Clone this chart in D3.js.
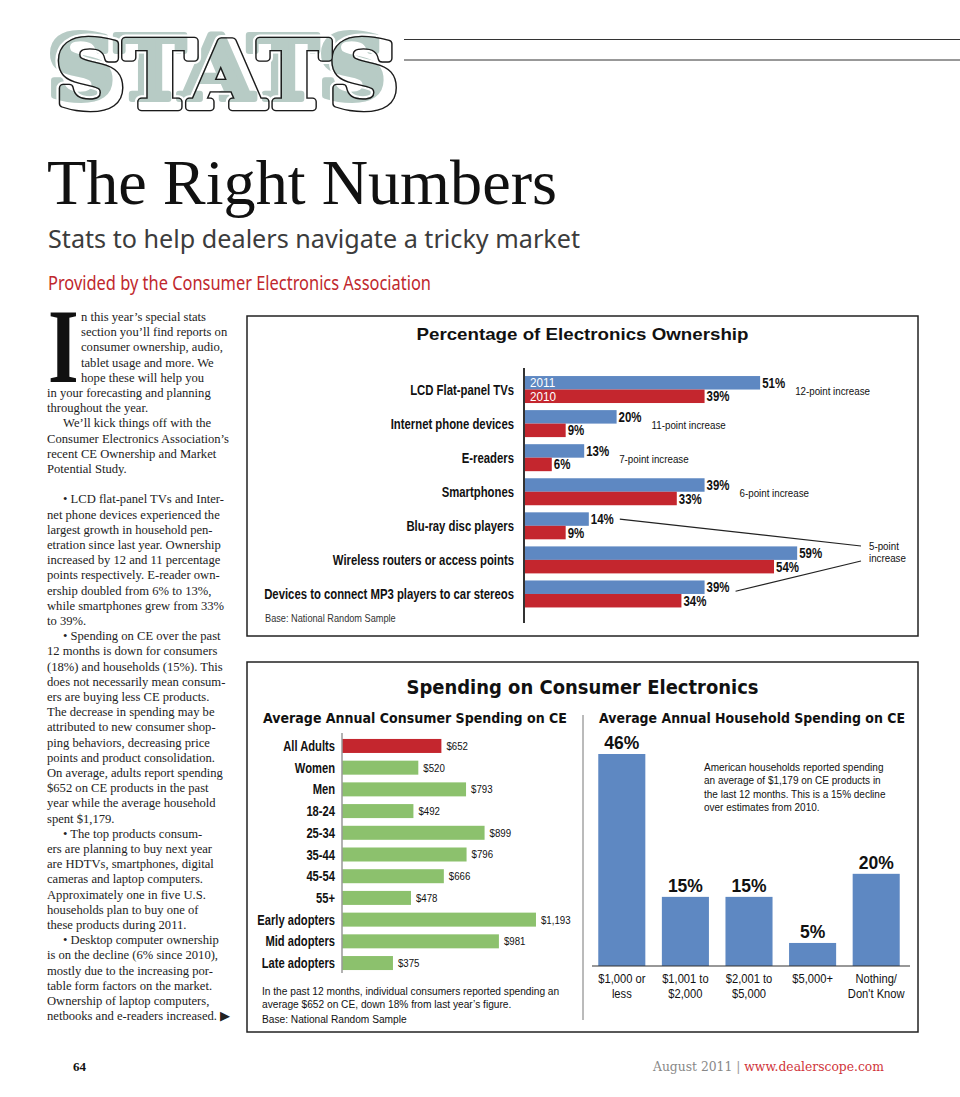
<!DOCTYPE html>
<html><head><meta charset="utf-8">
<script src="https://cdn.jsdelivr.net/npm/d3@7"></script>
<style>body{margin:0;background:#fff}svg{display:block}</style>
</head><body>
<script>
// ---------- DATA ----------
const ownCats = ["LCD Flat-panel TVs","Internet phone devices","E-readers","Smartphones","Blu-ray disc players","Wireless routers or access points","Devices to connect MP3 players to car stereos"];
const ownSeries = ["2011","2010"];
const own2011 = [51,20,13,39,14,59,39];
const own2010 = [39,9,6,33,9,54,34];
const ownNotes = ["12-point increase","11-point increase","7-point increase","6-point increase"];
const ownNote5 = ["5-point","increase"];

const consCats = ["All Adults","Women","Men","18-24","25-34","35-44","45-54","55+","Early adopters","Mid adopters","Late adopters"];
const consVals = [652,520,793,492,899,796,666,478,1193,981,375];
const consLabels = ["$652","$520","$793","$492","$899","$796","$666","$478","$1,193","$981","$375"];

const hhCats = [["$1,000 or","less"],["$1,001 to","$2,000"],["$2,001 to","$5,000"],["$5,000+"],["Nothing/","Don't Know"]];
const hhVals = [46,15,15,5,20];

const bodyLines = [
 [81,"n this year\u2019s special stats"],[81,"section you\u2019ll find reports on"],[81,"consumer ownership, audio,"],[81,"tablet usage and more. We"],[81,"hope these will help you"],
 [47,"in your forecasting and planning"],[47,"throughout the year."],[63,"We\u2019ll kick things off with the"],[47,"Consumer Electronics Association\u2019s"],[47,"recent CE Ownership and Market"],[47,"Potential Study."],[47,""],
 [63,"\u2022 LCD flat-panel TVs and Inter-"],[47,"net phone devices experienced the"],[47,"largest growth in household pen-"],[47,"etration since last year. Ownership"],[47,"increased by 12 and 11 percentage"],[47,"points respectively. E-reader own-"],[47,"ership doubled from 6% to 13%,"],[47,"while smartphones grew from 33%"],[47,"to 39%."],
 [63,"\u2022 Spending on CE over the past"],[47,"12 months is down for consumers"],[47,"(18%) and households (15%). This"],[47,"does not necessarily mean consum-"],[47,"ers are buying less CE products."],[47,"The decrease in spending may be"],[47,"attributed to new consumer shop-"],[47,"ping behaviors, decreasing price"],[47,"points and product consolidation."],[47,"On average, adults report spending"],[47,"$652 on CE products in the past"],[47,"year while the average household"],[47,"spent $1,179."],
 [63,"\u2022 The top products consum-"],[47,"ers are planning to buy next year"],[47,"are HDTVs, smartphones, digital"],[47,"cameras and laptop computers."],[47,"Approximately one in five U.S."],[47,"households plan to buy one of"],[47,"these products during 2011."],
 [63,"\u2022 Desktop computer ownership"],[47,"is on the decline (6% since 2010),"],[47,"mostly due to the increasing por-"],[47,"table form factors on the market."],[47,"Ownership of laptop computers,"],[47,"netbooks and e-readers increased. \u25B6"]
];

// ---------- SETUP ----------
const W=960,H=1097;
const BLUE="#5e88c2", RED="#c4262e", GREEN="#8cc16d";
const SANS="'Liberation Sans', Arial, Helvetica, sans-serif";
const SERIF="'Liberation Serif', 'Times New Roman', serif";
const HEAVY="'DejaVu Sans', Verdana, sans-serif";
const SLAB="'DejaVu Serif', serif";
const svg=d3.select('body').append('svg').attr('width',W).attr('height',H);
svg.append('rect').attr('width',W).attr('height',H).attr('fill','#fff');
const defs=svg.append('defs');

function ctext(g,x,y,str,o={}){
  const t=g.append('text')
    .attr('transform',`translate(${x},${y}) scale(${o.sx??1},1)`)
    .attr('font-family',o.ff||SANS).attr('font-size',o.fs||12)
    .attr('font-weight',o.fw||'normal').attr('fill',o.fill||'#111')
    .attr('text-anchor',o.anchor||'start').text(str);
  if(o.dy) t.attr('dy',o.dy);
  return t;
}

// ---------- HEADER ----------
const hdr=svg.append('g');
function statsText(g,x,y,fs,len){
  return g.append('text').attr('x',x).attr('y',y).attr('font-family',SLAB).attr('font-weight','bold')
    .attr('font-size',fs).attr('textLength',len).attr('lengthAdjust','spacingAndGlyphs')
    .attr('stroke-linejoin','round').text('STATS');
}
// shadow letters
statsText(hdr,47,99,88,339).attr('fill','#b7cbc5').attr('stroke','#b7cbc5').attr('stroke-width',6);
// outline letters (rings built with masks)
function ring(id,outerW,innerW,color){
  const m=defs.append('mask').attr('id',id).attr('maskUnits','userSpaceOnUse')
    .attr('x',0).attr('y',0).attr('width',W).attr('height',150);
  statsText(m,56,107,90,342).attr('fill','#fff').attr('stroke','#fff').attr('stroke-width',outerW);
  statsText(m,56,107,90,342).attr('fill','#000').attr('stroke','#000').attr('stroke-width',innerW);
  hdr.append('rect').attr('x',0).attr('y',0).attr('width',W).attr('height',150).attr('fill',color).attr('mask',`url(#${id})`);
}
ring('haloMask',13,8.6,'#fff');
ring('ringMask',8.6,6,'#1a1a1a');
[39.5,60].forEach(y=>hdr.append('line').attr('x1',404).attr('x2',960).attr('y1',y).attr('y2',y).attr('stroke','#333').attr('stroke-width',1));

hdr.append('text').attr('x',47).attr('y',204).attr('font-family',SERIF).attr('font-size',64)
  .attr('textLength',510).attr('lengthAdjust','spacingAndGlyphs').attr('fill','#111').text('The Right Numbers');
hdr.append('text').attr('x',48).attr('y',248).attr('font-family',"'Noto Sans',sans-serif").attr('font-size',26)
  .attr('textLength',532).attr('lengthAdjust','spacingAndGlyphs').attr('fill','#3c3c3c').text('Stats to help dealers navigate a tricky market');
hdr.append('text').attr('x',48).attr('y',290).attr('font-family',"'Noto Sans',sans-serif").attr('font-size',19)
  .attr('textLength',383).attr('lengthAdjust','spacingAndGlyphs').attr('fill','#c0272d').text('Provided by the Consumer Electronics Association');

// ---------- BODY TEXT ----------
const body=svg.append('g');
body.append('text').attr('transform','translate(48,382) scale(0.75,1)').attr('font-family',SERIF).attr('font-weight','bold')
  .attr('font-size',105).attr('fill','#111').text('I');
bodyLines.forEach((d,i)=>{
  body.append('text').attr('x',d[0]).attr('y',321+i*15.2).attr('font-family',SERIF).attr('font-size',12.6)
    .attr('fill','#222').text(d[1]);
});

// ---------- CHART 1 ----------
const c1=svg.append('g');
c1.append('rect').attr('x',247).attr('y',316).attr('width',671).attr('height',320).attr('fill','none').attr('stroke','#222').attr('stroke-width',1.5);
c1.append('text').attr('x',582.5).attr('y',340).attr('text-anchor','middle').attr('font-family',SANS).attr('font-weight','bold')
  .attr('font-size',17).attr('textLength',332).attr('lengthAdjust','spacingAndGlyphs').attr('fill','#111').text('Percentage of Electronics Ownership');
const x1=d3.scaleLinear().domain([0,100]).range([524,987]);
const y1=d3.scaleBand().domain(ownCats).range([372.5,611]).paddingInner(0.208).paddingOuter(0.104);
const ys=d3.scaleBand().domain(ownSeries).range([0,y1.bandwidth()]);
const vals1={"2011":own2011,"2010":own2010};
const col1={"2011":BLUE,"2010":RED};
ownCats.forEach((c,i)=>{
  ownSeries.forEach(s=>{
    const v=vals1[s][i], yy=y1(c)+ys(s);
    c1.append('rect').attr('x',x1(0)).attr('y',yy).attr('width',x1(v)-x1(0)).attr('height',ys.bandwidth()).attr('fill',col1[s]);
    ctext(c1,x1(v)+2,yy+ys.bandwidth()/2,v+'%',{fs:14,fw:'bold',sx:0.82,dy:'0.36em'});
    if(i===0) ctext(c1,x1(0)+6,yy+ys.bandwidth()/2,s,{fs:13,sx:0.9,fill:'#fff',dy:'0.36em'});
  });
  ctext(c1,514,y1(c)+y1.bandwidth()/2,c,{fs:14,fw:'bold',sx:0.81,anchor:'end',dy:'0.36em'});
  if(i<ownNotes.length) ctext(c1,x1(own2011[i])+35,y1(c)+y1.bandwidth()/2+1,ownNotes[i],{fs:11.5,sx:0.85,dy:'0.36em'});
});
c1.append('line').attr('x1',524).attr('x2',524).attr('y1',368).attr('y2',623).attr('stroke','#333').attr('stroke-width',2);
// 5-point annotation
const iB=ownCats.indexOf("Blu-ray disc players"), iM=ownCats.indexOf("Devices to connect MP3 players to car stereos");
const b1y=y1(ownCats[iB])+ys("2011")+ys.bandwidth()/2, m1y=y1(ownCats[iM])+ys("2011")+ys.bandwidth()/2;
c1.append('line').attr('x1',x1(own2011[iB])+31).attr('y1',b1y).attr('x2',861).attr('y2',546).attr('stroke','#222').attr('stroke-width',1.2);
c1.append('line').attr('x1',x1(own2011[iM])+31).attr('y1',m1y+4).attr('x2',861).attr('y2',561).attr('stroke','#222').attr('stroke-width',1.2);
ownNote5.forEach((t,k)=>ctext(c1,869,546+k*12,t,{fs:11.5,sx:0.85,dy:'0.36em'}));
ctext(c1,265,618,'Base: National Random Sample',{fs:10,sx:0.92,dy:'0.36em',fill:'#333'});

// ---------- CHART 2 ----------
const c2=svg.append('g');
c2.append('rect').attr('x',247).attr('y',662).attr('width',671).attr('height',370).attr('fill','none').attr('stroke','#222').attr('stroke-width',1.5);
c2.append('text').attr('x',582.5).attr('y',694).attr('text-anchor','middle').attr('font-family',HEAVY).attr('font-weight','bold')
  .attr('font-size',19).attr('textLength',352).attr('lengthAdjust','spacingAndGlyphs').attr('fill','#111').text('Spending on Consumer Electronics');
c2.append('text').attr('x',263).attr('y',723).attr('font-family',HEAVY).attr('font-weight','bold')
  .attr('font-size',13.5).attr('textLength',304).attr('lengthAdjust','spacingAndGlyphs').attr('fill','#111').text('Average Annual Consumer Spending on CE');
c2.append('text').attr('x',599).attr('y',723).attr('font-family',HEAVY).attr('font-weight','bold')
  .attr('font-size',13.5).attr('textLength',306).attr('lengthAdjust','spacingAndGlyphs').attr('fill','#111').text('Average Annual Household Spending on CE');
c2.append('line').attr('x1',583).attr('x2',583).attr('y1',715).attr('y2',1020).attr('stroke','#777').attr('stroke-width',1);

// left: consumer spending
const axX=342;
const x2=d3.scaleLinear().domain([0,1200]).range([327.4,537.2]);
const y2=d3.scaleBand().domain(consCats).range([735.1,973.9]).paddingInner(0.355).paddingOuter(0.1775);
consCats.forEach((c,i)=>{
  const v=consVals[i], yy=y2(c);
  c2.append('rect').attr('x',axX).attr('y',yy).attr('width',x2(v)-axX).attr('height',y2.bandwidth()).attr('fill',i===0?RED:GREEN);
  ctext(c2,x2(v)+5,yy+y2.bandwidth()/2,consLabels[i],{fs:11,sx:0.88,dy:'0.36em'});
  ctext(c2,335,yy+y2.bandwidth()/2,c,{fs:14,fw:'bold',sx:0.8,anchor:'end',dy:'0.36em'});
});
c2.append('line').attr('x1',axX).attr('x2',axX).attr('y1',733).attr('y2',973).attr('stroke','#999').attr('stroke-width',1.5);
["In the past 12 months, individual consumers reported spending an","average $652 on CE, down 18% from last year\u2019s figure."]
  .forEach((t,k)=>ctext(c2,262,995+k*12.5,t,{fs:11.5,sx:0.885}));
ctext(c2,262,1023,'Base: National Random Sample',{fs:11.5,sx:0.885});

// right: household spending
const x3=d3.scaleBand().domain(d3.range(hhCats.length)).range([590,908]).paddingInner(0.26).paddingOuter(0.13);
const y3=d3.scaleLinear().domain([0,46]).range([966,754]);
hhVals.forEach((v,i)=>{
  c2.append('rect').attr('x',x3(i)).attr('y',y3(v)).attr('width',x3.bandwidth()).attr('height',y3(0)-y3(v)).attr('fill',BLUE);
  const cx=x3(i)+x3.bandwidth()/2;
  ctext(c2,cx,y3(v)-5,v+'%',{fs:17.5,fw:'bold',anchor:'middle'});
  hhCats[i].forEach((t,k)=>ctext(c2,cx,983+k*14.5,t,{fs:12,sx:0.93,anchor:'middle'}));
});
c2.append('line').attr('x1',592).attr('x2',910).attr('y1',966).attr('y2',966).attr('stroke','#333').attr('stroke-width',1.2);
["American households reported spending","an average of $1,179 on CE products in","the last 12 months. This is a 15% decline","over estimates from 2010."]
  .forEach((t,k)=>ctext(c2,704,771+k*13.3,t,{fs:11.5,sx:0.87}));

// ---------- FOOTER ----------
svg.append('text').attr('x',73).attr('y',1071).attr('font-family',SERIF).attr('font-weight','bold').attr('font-size',13).attr('fill','#111').text('64');
const ft=svg.append('text').attr('x',653).attr('y',1071).attr('font-family',SLAB).attr('font-size',12)
  .attr('textLength',231).attr('lengthAdjust','spacingAndGlyphs');
ft.append('tspan').attr('fill','#888').text('August 2011 ');
ft.append('tspan').attr('fill','#999').text('| ');
ft.append('tspan').attr('fill','#d0343a').text('www.dealerscope.com');
</script>
</body></html>
